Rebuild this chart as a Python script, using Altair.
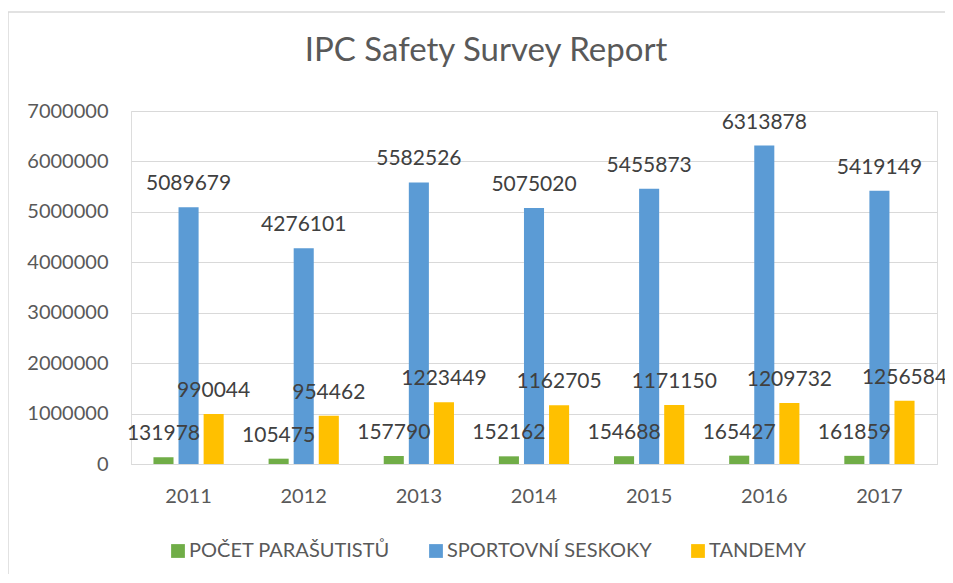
import altair as alt
import pandas as pd

years = ["2011", "2012", "2013", "2014", "2015", "2016", "2017"]
series = ["POČET PARAŠUTISTŮ", "SPORTOVNÍ SESKOKY", "TANDEMY"]
pocet = [131978, 105475, 157790, 152162, 154688, 165427, 161859]
sportovni = [5089679, 4276101, 5582526, 5075020, 5455873, 6313878, 5419149]
tandemy = [990044, 954462, 1223449, 1162705, 1171150, 1209732, 1256584]
colors = ["#70AD47", "#5B9BD5", "#FFC000"]
y_ticks = [0, 1000000, 2000000, 3000000, 4000000, 5000000, 6000000, 7000000]
title_text = "IPC Safety Survey Report"

rows = []
for name, vals in zip(series, [pocet, sportovni, tandemy]):
    for yr, v in zip(years, vals):
        rows.append({"year": yr, "series": name, "value": v})
df = pd.DataFrame(rows)

FONT = "Lato"
W, H = 806, 353

x_enc = alt.X("year:N", sort=years, title=None,
              scale=alt.Scale(paddingInner=0.39, paddingOuter=0.195),
              axis=alt.Axis(labelAngle=0, ticks=False, domainColor="#D9D9D9",
                            labelPadding=22, labelFontSize=20, labelColor="#595959",
                            labelFont=FONT))
xo_enc = alt.XOffset("series:N", sort=series,
                     scale=alt.Scale(paddingInner=0.2, paddingOuter=0))
y_enc = alt.Y("value:Q", title=None,
              scale=alt.Scale(domain=[0, 7000000], nice=False),
              axis=alt.Axis(values=y_ticks, format="d", domain=False, ticks=False,
                            labelPadding=23, labelFontSize=20, labelColor="#595959",
                            labelFont=FONT, gridColor="#D9D9D9", gridWidth=1))

base = alt.Chart(df)

bars = base.mark_bar().encode(
    x=x_enc, xOffset=xo_enc, y=y_enc,
    color=alt.Color("series:N", sort=series,
                    scale=alt.Scale(domain=series, range=colors),
                    legend=alt.Legend(title=None, orient="none", direction="horizontal",
                                      legendX=37, legendY=430, symbolType="square",
                                      symbolSize=190, symbolStrokeWidth=0,
                                      labelFontSize=20, labelFont=FONT, labelLimit=0,
                                      labelColor="#595959", columnPadding=36,
                                      labelOffset=1, padding=0)),
)

labels = base.mark_text(baseline="alphabetic", dy=-17, fontSize=21, font=FONT,
                        color="#404040").encode(
    x=alt.X("year:N", sort=years), xOffset=alt.XOffset("series:N", sort=series),
    y="value:Q", text=alt.Text("value:Q", format="d"),
)

frame_df = pd.DataFrame({"title": [title_text]})
left_border = alt.Chart(frame_df).mark_rule(color="#D9D9D9", strokeWidth=1.5).encode(
    x=alt.value(-123), y=alt.value(-99), y2=alt.value(480))
top_border = alt.Chart(frame_df).mark_rule(color="#D9D9D9", strokeWidth=1.5).encode(
    x=alt.value(-123), x2=alt.value(830), y=alt.value(-99))
title_mark = alt.Chart(frame_df).mark_text(
    fontSize=33, font=FONT, color="#595959", align="center", baseline="alphabetic"
).encode(x=alt.value(355), y=alt.value(-50), text="title:N")

chart = alt.layer(bars, labels, left_border, top_border, title_mark).properties(
    width=W, height=H,
    autosize=alt.AutoSizeParams(type="none"),
    padding={"left": 123, "top": 103, "right": 8, "bottom": 110},
).configure_view(stroke=None).configure(background="white")

chart.save("out.html", embed_options={"renderer": "svg", "actions": False})
